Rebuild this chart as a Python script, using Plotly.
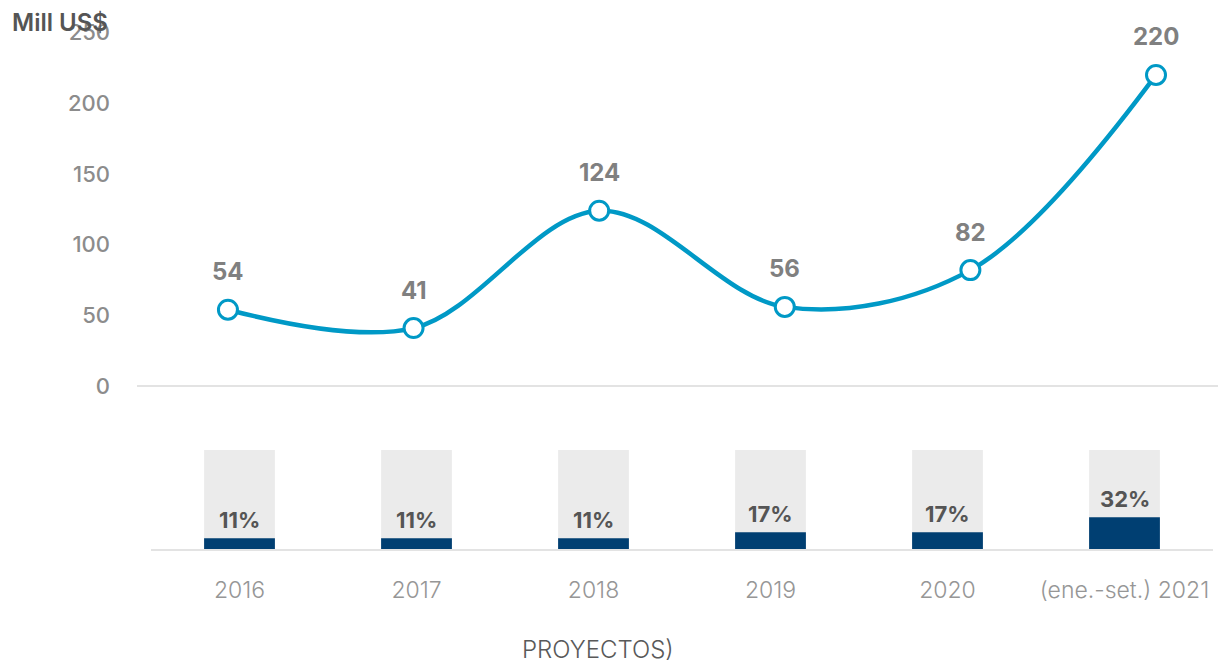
import plotly.graph_objects as go

years = ["2016", "2017", "2018", "2019", "2020", "(ene.-set.) 2021"]
investment = [54, 41, 124, 56, 82, 220]
share_pct = [11, 11, 11, 17, 17, 32]
full_pct = [100, 100, 100, 100, 100, 100]
y_ticks = [0, 50, 100, 150, 200, 250]

W, H = 1218, 670
def fx(px):
    return px / W
def fy(py):
    return 1 - py / H

FONT = "Inter"
BLUE = "#0099c6"
NAVY = "#003f72"

fig = go.Figure()
fig.add_trace(go.Scatter(
    x=years, y=investment, mode="lines+markers",
    line=dict(color=BLUE, width=4.5, shape="spline", smoothing=1),
    marker=dict(size=19, color="white", line=dict(color=BLUE, width=3)),
    cliponaxis=False, xaxis="x", yaxis="y", hoverinfo="skip"))
fig.add_trace(go.Bar(x=years, y=full_pct, marker=dict(color="#ebebeb", line_width=0),
                     width=0.4, xaxis="x2", yaxis="y2", hoverinfo="skip"))
fig.add_trace(go.Bar(x=years, y=share_pct, marker=dict(color=NAVY, line_width=0),
                     width=0.4, xaxis="x2", yaxis="y2", hoverinfo="skip"))

annotations = []
for i, v in enumerate(investment):
    annotations.append(dict(x=i, y=v, xref="x", yref="y", text=f"<b>{v}</b>",
                            showarrow=False, yshift=38,
                            font=dict(family=FONT, size=24, color="#808080")))
for i, p in enumerate(share_pct):
    annotations.append(dict(x=i, y=p, xref="x2", yref="y2", text=f"<b>{p}%</b>",
                            showarrow=False, yanchor="bottom", yshift=3,
                            font=dict(family=FONT, size=22, color="#555555")))
annotations.append(dict(x=fx(10), y=fy(17), xref="paper", yref="paper", xanchor="left",
                        yanchor="middle", text="Mill US$", showarrow=False,
                        font=dict(family=FONT, size=24, color="#555555", weight=600)))
annotations.append(dict(x=fx(598), y=0, xref="paper", yref="paper", xanchor="center",
                        yanchor="bottom", text="PROYECTOS)", showarrow=False, yshift=-2,
                        font=dict(family=FONT, size=24, color="#595959", weight=300)))

top_px_per_unit = (387 - 99) / 200.0
y_lo, y_hi = -5, 255
fig.update_layout(
    width=W, height=H, margin=dict(l=0, r=0, t=0, b=0),
    paper_bgcolor="white", plot_bgcolor="white", showlegend=False,
    barmode="overlay", font=dict(family=FONT),
    xaxis=dict(type="category", domain=[fx(137), 1], range=[-0.49, 5.334],
               showticklabels=False, showgrid=False, zeroline=False, showline=False,
               anchor="y"),
    yaxis=dict(domain=[fy(387 - y_lo * top_px_per_unit), fy(387 - y_hi * top_px_per_unit)],
               range=[y_lo, y_hi], tickvals=y_ticks, showgrid=False,
               zeroline=True, zerolinecolor="#e3e3e3", zerolinewidth=1.5,
               ticklabelstandoff=26, anchor="x",
               tickfont=dict(family=FONT, size=22, color="#8c8c8c", weight=500)),
    xaxis2=dict(type="category", domain=[fx(151), fx(1213)], range=[-0.5, 5.5],
                anchor="y2", showgrid=False, zeroline=False, showline=True,
                linecolor="#e3e3e3", linewidth=1.5, ticks="", ticklabelstandoff=20,
                tickfont=dict(family=FONT, size=23, color="#969696", weight=300)),
    yaxis2=dict(domain=[fy(553), fy(452)], range=[0, 100], visible=False, anchor="x2"),
    annotations=annotations,
)
fig.write_html("out.html", config={"displayModeBar": False},
               post_script="document.body.style.margin='0';")
